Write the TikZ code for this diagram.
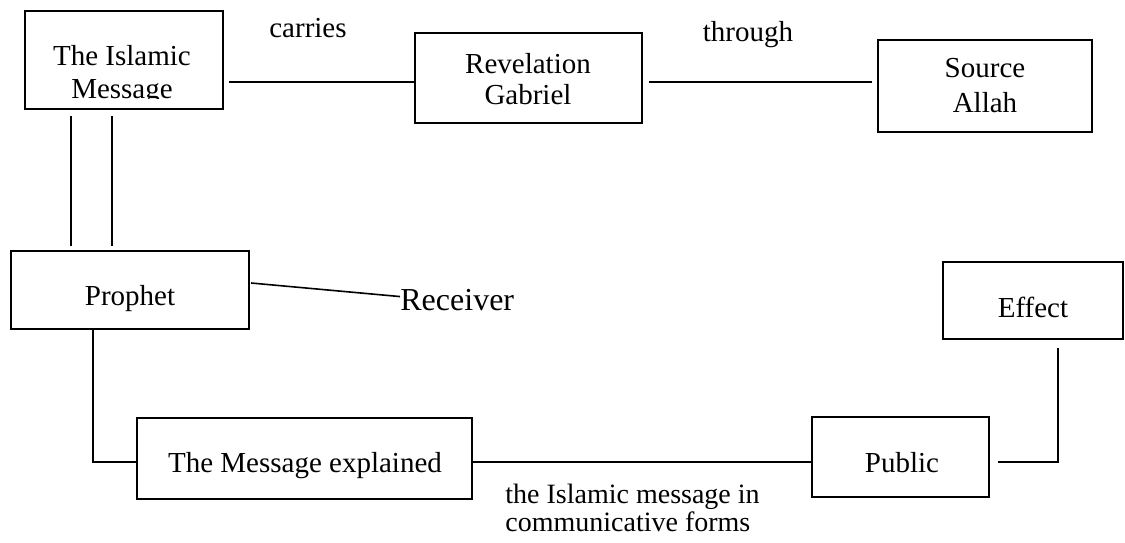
\documentclass[tikz,border=0pt]{standalone}
\usepackage{fontspec}
\setmainfont{Liberation Serif}
\usetikzlibrary{calc}
\tikzset{
  box/.style={draw, line width=1pt, inner sep=0pt},
  txt/.style={inner sep=0pt, align=center, font=\fontsize{14.5pt}{16pt}\selectfont},
  conn/.style={line width=1pt},
  thin conn/.style={line width=0.8pt},
  thick conn/.style={line width=1.4pt}
}
\begin{document}
\begin{tikzpicture}[x=0.5pt,y=-0.5pt]
\useasboundingbox (0,0) rectangle (1125,542);

% boxes
\node[box, minimum width=99pt,    minimum height=49pt]   (msg)  at (124,60)      {};
\node[box, minimum width=113.5pt, minimum height=45pt]   (rev)  at (528.5,78)    {};
\node[box, minimum width=107pt,   minimum height=46pt]   (src)  at (985,86)      {};
\node[box, minimum width=119pt,   minimum height=39pt]   (pro)  at (130,290)     {};
\node[box, minimum width=167.5pt, minimum height=40.5pt] (expl) at (304.5,458.5) {};
\node[box, minimum width=88.5pt,  minimum height=40pt]   (pub)  at (900.5,457)   {};
\node[box, minimum width=90pt,    minimum height=38.5pt] (eff)  at (1033,300.5)  {};

% box texts
\begin{scope}
  \clip (25,11) rectangle (223,98.5);
  \node[txt, anchor=north, font=\fontsize{14.5pt}{16.5pt}\selectfont] (msg-t) at (122,45) {The Islamic\\Message};
\end{scope}
\node[txt, anchor=north, font=\fontsize{14.5pt}{15.5pt}\selectfont] (rev-t) at (528,53) {Revelation\\Gabriel};
\node[txt, anchor=north, font=\fontsize{14.5pt}{17.5pt}\selectfont] (src-t) at (985,58) {Source\\Allah};
\node[txt, anchor=base] (pro-t)  at (130,305) {Prophet};
\node[txt, anchor=base] (expl-t) at (305,472) {The Message explained};
\node[txt, anchor=base] (pub-t)  at (902,472) {Public};
\node[txt, anchor=base] (eff-t)  at (1033,317) {Effect};

% free labels
\node[txt, anchor=base] (carries) at (308,37) {carries};
\node[txt, anchor=base] (through) at (748,41) {through};
\node[txt, anchor=base west, font=\fontsize{16pt}{19pt}\selectfont] (rcv) at (400,310) {Receiver};
\node[txt, anchor=north west, align=left, font=\fontsize{14pt}{12pt}\selectfont] (form) at (505,484)
  {the Islamic message in\\communicative forms};

% connectors
\coordinate (m1) at ($(msg.east)+(5,22)$);
\draw[conn] (m1) -- (m1 -| rev.west);
\coordinate (r1) at ($(rev.east)+(6,4)$);
\draw[conn] (r1) -- ($(r1 -| src.west)+(-5,0)$);

\draw[thick conn] ($(msg.south west)+(47,6)$) -- ($(pro.north west)+(61,-4)$);
\draw[conn]       ($(msg.south west)+(88,6)$) -- ($(pro.north west)+(102,-4)$);

\draw[thin conn] ($(pro.east)+(1,-7)$) -- ($(rcv.west)+(0,-3)$);

\coordinate (x1) at ($(expl.west)+(0,3.5)$);
\draw[conn] ($(pro.south west)+(83,0)$) |- (x1);
\coordinate (x2) at ($(expl.east)+(0,3.5)$);
\draw[conn] (x2) -- (x2 -| pub.west);
\coordinate (p1) at ($(pub.east)+(8,5)$);
\coordinate (e1) at ($(eff.south west)+(116,8)$);
\draw[conn] (p1) -| (e1);
\end{tikzpicture}
\end{document}
